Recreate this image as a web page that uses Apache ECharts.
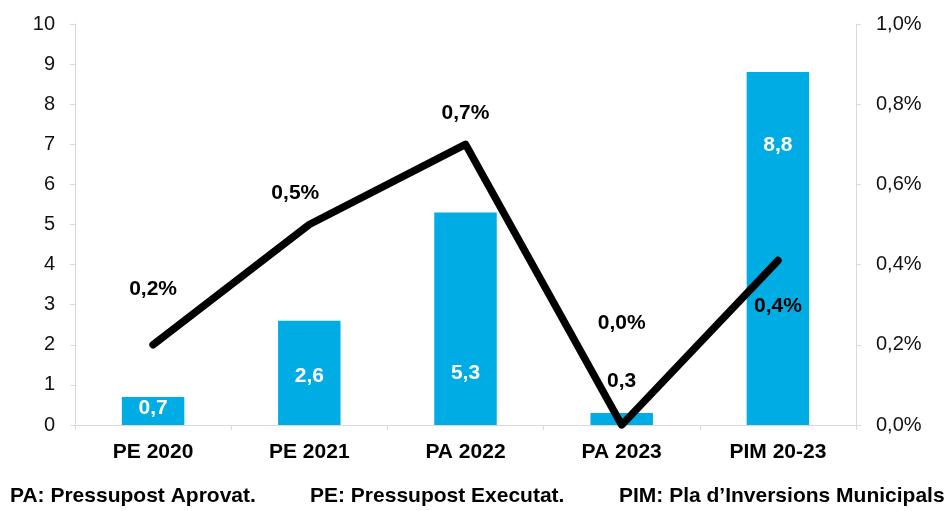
<!DOCTYPE html>
<html><head><meta charset="utf-8">
<script src="https://cdn.jsdelivr.net/npm/echarts@6/dist/echarts.min.js"></script>
<style>html,body{margin:0;padding:0;background:#fff}#c{width:950px;height:511px}</style>
</head><body><div id="c"></div>
<script>
const categories = ['PE 2020', 'PE 2021', 'PA 2022', 'PA 2023', 'PIM 20-23'];
const barValues = [0.7, 2.6, 5.3, 0.3, 8.8];
const pctValues = [0.2, 0.5, 0.7, 0.0, 0.41];
const pctLabels = ['0,2%', '0,5%', '0,7%', '0,0%', '0,4%'];
const leftTicks = [0,1,2,3,4,5,6,7,8,9,10];
const rightTicks = ['0,0%','0,2%','0,4%','0,6%','0,8%','1,0%'];
const footer = ['PA: Pressupost Aprovat.', 'PE: Pressupost Executat.', 'PIM: Pla d\u2019Inversions Municipals'];

const FONT = '"Liberation Sans", Arial, Helvetica, sans-serif';
const barLabelOffsets = [[0,-3],[0,3],[0,54],[0,0],[0,-103]];
const lineLabelOffsets = [[0,-56],[-14,-31],[0,-31],[0,-102],[0,46]];

const chart = echarts.init(document.getElementById('c'), null, {renderer:'canvas'});
const barData = barValues.map((v,i)=>{
  if (i===3) return {value:v, label:{position:'top', color:'#000', offset:[0,-16]}};
  return {value:v, label:{position:'inside', offset:barLabelOffsets[i]}};
});
const lineData = pctValues.map((v,i)=>({value:v, label:{offset:lineLabelOffsets[i]}}));
chart.setOption({
  animation:false,
  grid:{left:75, right:94, top:24, bottom:86, containLabel:false},
  xAxis:{type:'category', data:categories,
    axisLine:{lineStyle:{color:'#d9d9d9'}}, axisTick:{show:true, lineStyle:{color:'#d9d9d9'}, length:5},
    axisLabel:{color:'#000', fontFamily:FONT, fontWeight:'bold', fontSize:21, margin:17}},
  yAxis:[
    {type:'value', min:0, max:10, interval:1,
     axisLine:{show:true, lineStyle:{color:'#d9d9d9'}}, axisTick:{show:true, length:5, lineStyle:{color:'#d9d9d9'}},
     splitLine:{show:false},
     axisLabel:{color:'#111', fontFamily:FONT, fontSize:20, margin:20, formatter:v=>String(leftTicks[Math.round(v)])}},
    {type:'value', min:0, max:1, interval:0.2, position:'right',
     axisLine:{show:true, lineStyle:{color:'#d9d9d9'}}, axisTick:{show:true, length:5, lineStyle:{color:'#d9d9d9'}},
     splitLine:{show:false},
     axisLabel:{color:'#111', fontFamily:FONT, fontSize:20, margin:20, formatter:v=>rightTicks[Math.round(v*5)]}}
  ],
  series:[
    {type:'bar', data:barData, barWidth:'40%', itemStyle:{color:'#00ace4'}, z:1,
     label:{show:true, color:'#fff', fontFamily:FONT, fontWeight:'bold', fontSize:21,
       formatter:p=>String(p.value).replace('.',',')}},
    {type:'line', yAxisIndex:1, data:lineData, showSymbol:true, symbol:'circle', symbolSize:1, z:2,
     itemStyle:{color:'#000'},
     lineStyle:{color:'#000', width:7.5, cap:'round', join:'round'},
     label:{show:true, position:'inside', color:'#000', fontFamily:FONT, fontWeight:'bold', fontSize:21,
       formatter:p=>pctLabels[p.dataIndex]}}
  ],
  graphic:[
    {type:'text', left:10, top:486, style:{text:footer[0], fill:'#000', font:'bold 21px '+FONT}},
    {type:'text', left:310, top:486, style:{text:footer[1], fill:'#000', font:'bold 21px '+FONT}},
    {type:'text', left:619, top:486, style:{text:footer[2], fill:'#000', font:'bold 21px '+FONT}}
  ]
});
</script></body></html>
